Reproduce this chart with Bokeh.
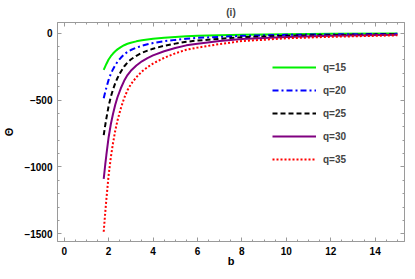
import numpy as np
from bokeh.plotting import figure
from bokeh.models import (Range1d, LinearAxis, FixedTicker, Legend, LegendItem,
                          ColumnDataSource, CustomJSTickFormatter)
from bokeh.embed import file_html
from bokeh.resources import INLINE

# ---- data ----
b_vals = [1.78, 1.85, 1.9, 2.0, 2.1, 2.2, 2.3, 2.4, 2.55, 2.7, 2.85, 3.0, 3.25, 3.5, 3.75,
          4.0, 4.5, 5.0, 5.5, 6.0, 7.0, 8.0, 9.0, 10.0, 12.0, 15.0]
theta_q15 = [-275, -248, -230, -197, -172, -152, -135, -121, -104, -90, -79, -71, -61, -53, -47,
             -42, -34, -28, -23, -20, -15, -11, -9, -7, -5, -3]
theta_q20 = [-487, -439, -407, -349, -304, -269, -239, -214, -184, -159, -140, -126, -108, -94, -83,
             -74, -60, -50, -41, -35, -27, -20, -16, -12, -9, -5]
theta_q25 = [-762, -687, -637, -546, -476, -421, -374, -335, -288, -249, -219, -197, -169, -147, -130,
             -116, -94, -78, -64, -55, -42, -30, -25, -19, -14, -8]
theta_q30 = [-1090, -982, -911, -780, -681, -602, -535, -479, -412, -356, -313, -281, -242, -210, -186,
             -166, -135, -111, -91, -79, -59, -44, -36, -28, -20, -12]
theta_q35 = [-1485, -1339, -1242, -1064, -929, -821, -729, -653, -562, -486, -427, -383, -329, -286, -254,
             -227, -184, -151, -124, -108, -81, -59, -49, -38, -27, -16]

series_labels = ["q=15", "q=20", "q=25", "q=30", "q=35"]

x_ticks = [0, 2, 4, 6, 8, 10, 12, 14]
x_tick_labels = ["0", "2", "4", "6", "8", "10", "12", "14"]
y_ticks = [0, -500, -1000, -1500]
y_tick_labels = ["0", "\u2212500", "\u22121000", "\u22121500"]

title_text = "(i)"
x_label = "b"
y_label = "\u0398"

# ---- styles ----
colors = ["#00f000", "#0000ff", "#000000", "#800080", "#ff0000"]
dashes = ["solid", "6 3 2 3", "5 3", "solid", "2 2"]
FONT = "Liberation Sans"
FRAME = "#9a9a9a"

x_minor = [v for v in np.arange(-0.5, 15.6, 0.5) if v not in x_ticks]
y_minor = [v for v in np.arange(-1600, 101, 100) if v not in y_ticks]

p = figure(width=405, height=269, output_backend="svg", toolbar_location=None,
           x_range=Range1d(-0.3, 15.32), y_range=Range1d(-1558, 80),
           min_border_left=43, min_border_right=1, min_border_top=0, min_border_bottom=0)
p.title.text = title_text
p.title.align = "center"
p.title.text_font = FONT
p.title.text_font_size = "10px"
p.title.text_font_style = "bold"
p.title.standoff = 9
p.title.offset = 0
p.grid.visible = False
p.outline_line_color = FRAME
p.background_fill_color = "white"

xt = FixedTicker(ticks=x_ticks, minor_ticks=x_minor)
yt = FixedTicker(ticks=y_ticks, minor_ticks=y_minor)

def style_axis(ax, labels, show):
    ax.axis_line_color = FRAME
    ax.major_tick_line_color = FRAME
    ax.minor_tick_line_color = FRAME
    ax.major_tick_in = 4
    ax.major_tick_out = 0
    ax.minor_tick_in = 2
    ax.minor_tick_out = 0
    ax.major_label_text_font = FONT
    ax.major_label_text_font_style = "bold"
    ax.major_label_text_color = "black"
    ax.major_label_text_font_size = "10px"
    if show:
        ax.major_label_overrides = labels
        ax.major_label_standoff = 3
    else:
        ax.formatter = CustomJSTickFormatter(code="return '';")
        ax.major_label_standoff = 0
    ax.axis_label_text_font = FONT
    ax.axis_label_text_font_style = "bold"
    ax.axis_label_text_font_size = "11px"
    ax.axis_label_text_color = "black"

xl = {t: l for t, l in zip(x_ticks, x_tick_labels)}
yl = {t: l for t, l in zip(y_ticks, y_tick_labels)}

p.xaxis[0].ticker = xt
p.yaxis[0].ticker = yt
style_axis(p.xaxis[0], xl, True)
style_axis(p.yaxis[0], yl, True)
p.xaxis[0].major_label_standoff = 5
p.yaxis[0].major_label_standoff = 5
p.xaxis[0].axis_label = x_label
p.xaxis[0].axis_label_standoff = -3
p.yaxis[0].axis_label = y_label
p.yaxis[0].axis_label_standoff = 6

top = LinearAxis(ticker=xt)
style_axis(top, xl, False)
p.add_layout(top, "above")
right = LinearAxis(ticker=yt)
style_axis(right, yl, False)
p.add_layout(right, "right")

series = [theta_q15, theta_q20, theta_q25, theta_q30, theta_q35]
items = []
for lab, ys, c, d in zip(series_labels, series, colors, dashes):
    src = ColumnDataSource(dict(x=b_vals, y=ys))
    r = p.line("x", "y", source=src, line_color=c, line_width=2, line_dash=d)
    items.append(LegendItem(label=lab, renderers=[r]))

legend = Legend(items=items, location=(215, 72), border_line_color=None,
                background_fill_alpha=0, label_text_font=FONT, label_text_font_size="10px",
                label_text_font_style="bold", glyph_width=44, glyph_height=20, spacing=3,
                label_standoff=7, padding=0, margin=0)
p.add_layout(legend)

open("out.html", "w").write(file_html(p, INLINE))
